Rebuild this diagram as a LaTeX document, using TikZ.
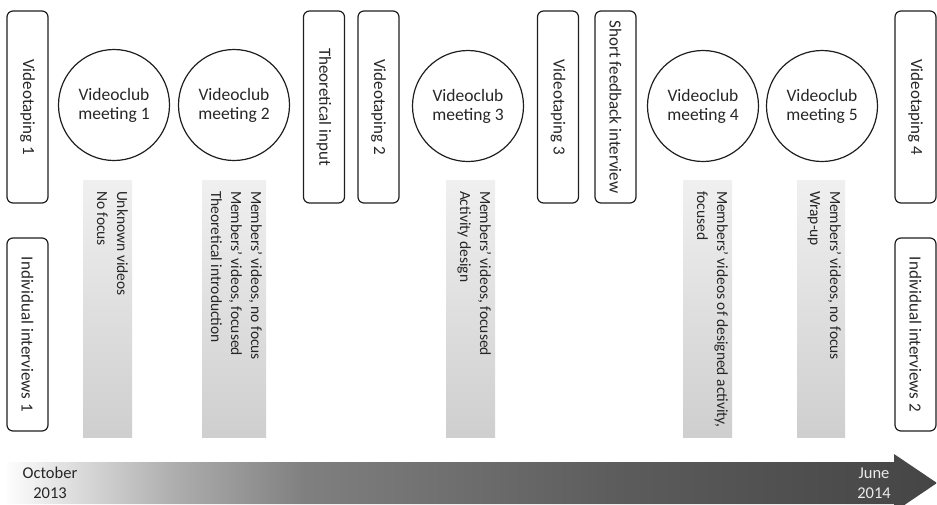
\documentclass[tikz,border=0pt]{standalone}
\usepackage{fontspec}
\setmainfont{Carlito}
\usetikzlibrary{shapes.geometric}
\pgfdeclarehorizontalshading{tlshade}{100bp}{%
  rgb(0bp)=(0.99,0.99,0.99); rgb(25bp)=(0.99,0.99,0.99);
  rgb(34bp)=(0.68,0.68,0.68); rgb(41bp)=(0.50,0.50,0.50);
  rgb(58bp)=(0.36,0.36,0.36); rgb(75bp)=(0.27,0.27,0.27);
  rgb(100bp)=(0.27,0.27,0.27)}
\begin{document}
\begin{tikzpicture}[x=1pt,y=-1pt,
  every node/.style={text=black!85},
  vbox/.style={draw=black!88, line width=1.2pt, rounded corners=6pt, rotate=-90,
    minimum height=41pt, inner sep=0pt, font=\fontsize{17}{20}\selectfont},
  meet/.style={draw=black!88, line width=1.2pt, circle, minimum size=111pt,
    align=center, inner sep=0pt, font=\fontsize{17.5}{19}\selectfont},
  bar/.style={top color=black!6, bottom color=black!19, draw=none,
    minimum height=257pt, inner sep=0pt},
  bartext/.style={rotate=-90, anchor=north west, align=left, inner sep=0pt,
    font=\fontsize{15.5}{20}\selectfont},
  datetext/.style={align=center, inner sep=0pt, anchor=base,
    font=\fontsize{16.5}{20}\selectfont}
]
\useasboundingbox (0,0) rectangle (937,504);
\clip (0,0) rectangle (937,504);

% timeline arrow
\path[shading=tlshade] (7,462) -- (894,462) -- (894,454) -- (937,483)
  -- (894,512) -- (894,504) -- (7,504) -- cycle;
\node[datetext] (oct) at (50,498) {October\\2013};
\node[datetext, text=white!92!black] (jun) at (874,498) {June\\2014};

% top row boxes
\node[vbox, minimum width=192pt] (vt1) at (27.5,107) {Videotaping 1};
\node[vbox, minimum width=192pt] (ti) at (324,107) {Theoretical input};
\node[vbox, minimum width=192pt] (vt2) at (378.5,107) {Videotaping 2};
\node[vbox, minimum width=192pt] (vt3) at (558,107) {Videotaping 3};
\node[vbox, minimum width=192pt] (sfi) at (615.5,107) {Short feedback interview};
\node[vbox, minimum width=192pt] (vt4) at (915.5,107) {Videotaping 4};

% bottom row boxes
\node[vbox, minimum width=193pt] (ii1) at (27.5,334.5) {Individual interviews 1};
\node[vbox, minimum width=193pt] (ii2) at (915.5,334.5) {Individual interviews 2};

% meetings
\node[meet] (m1) at (114,105) {Videoclub\\meeting 1};
\node[meet] (m2) at (234,105) {Videoclub\\meeting 2};
\node[meet] (m3) at (468,106) {Videoclub\\meeting 3};
\node[meet] (m4) at (703,106) {Videoclub\\meeting 4};
\node[meet] (m5) at (822,106) {Videoclub\\meeting 5};

% bars
\node[bar, minimum width=49pt] (b1) at (107.5,308.5) {};
\node[bar, minimum width=64pt] (b2) at (234,308.5) {};
\node[bar, minimum width=49pt] (b3) at (470.5,308.5) {};
\node[bar, minimum width=49pt] (b4) at (707.5,308.5) {};
\node[bar, minimum width=48pt] (b5) at (821,308.5) {};

\node[bartext] (t1) at ([xshift=-4pt,yshift=-11pt]b1.north east)
  {Unknown videos\\No focus};
\node[bartext] (t2) at ([xshift=-4pt,yshift=-11pt]b2.north east)
  {Members’ videos, no focus\\Members’ videos, focused\\Theoretical introduction};
\node[bartext] (t3) at ([xshift=-4pt,yshift=-11pt]b3.north east)
  {Members’ videos, focused\\Activity design};
\node[bartext] (t4) at ([xshift=-4pt,yshift=-11pt]b4.north east)
  {Members’ videos of designed activity,\\focused};
\node[bartext] (t5) at ([xshift=-4pt,yshift=-11pt]b5.north east)
  {Members’ videos, no focus\\Wrap-up};
\end{tikzpicture}
\end{document}
